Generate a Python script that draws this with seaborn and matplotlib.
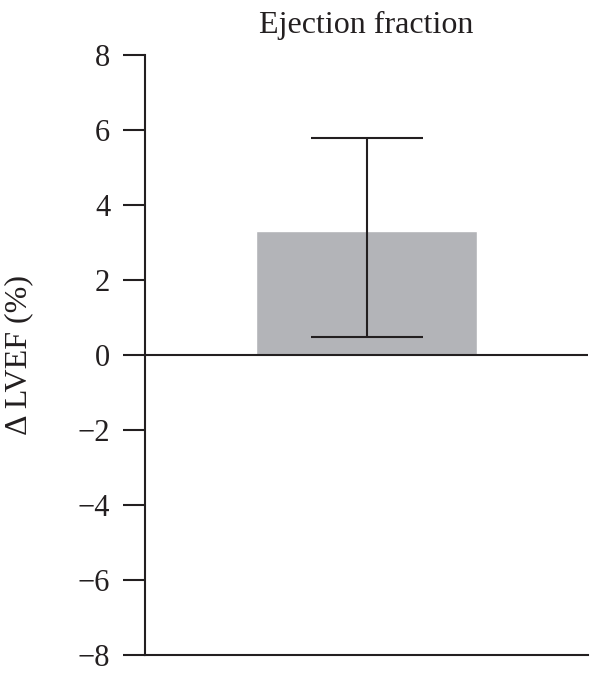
import pandas as pd
import matplotlib
matplotlib.use("Agg")
import matplotlib.pyplot as plt
import seaborn as sns

# Data
groups = ["LVEF"]
change = [3.3]
err_low = [0.48]
err_high = [5.8]
y_ticks = [-8, -6, -4, -2, 0, 2, 4, 6, 8]

sns.set_style("white")
plt.rcParams["font.family"] = ["Liberation Serif", "DejaVu Serif"]

df = pd.DataFrame({"group": groups, "change": change})
ink = "#231f20"
fs = 22

fig = plt.figure(figsize=(5.91, 6.75), dpi=100)
ax = fig.add_axes([0.2453, 0.0296, 0.7497, 0.8889])

sns.barplot(data=df, x="group", y="change", color="#b3b4b8", saturation=1,
            width=1.0, errorbar=None, ax=ax)

# asymmetric error bar
yerr = [[c - lo for c, lo in zip(change, err_low)],
        [hi - c for c, hi in zip(change, err_high)]]
ax.errorbar(x=range(len(groups)), y=change, yerr=yerr, fmt="none",
            ecolor=ink, elinewidth=1.5, capsize=40, capthick=1.5)

ax.axhline(0, color=ink, lw=1.5)

ax.set_xlim(-1, 1)
ax.set_ylim(-8, 8)
ax.set_yticks(y_ticks)
ax.set_yticklabels([str(t).replace("-", "\u2212") for t in y_ticks])
ax.set_xticks([])
ax.set_xlabel("")
ax.set_ylabel("\u0394 LVEF (%)", fontsize=fs + 1, color=ink)
ax.yaxis.set_label_coords(-0.253, 0.5)
ax.set_title("Ejection fraction", fontsize=fs + 1, color=ink, pad=16)

ax.tick_params(axis="y", length=16, width=1.5, color=ink, labelsize=fs,
               labelcolor=ink, pad=9, left=True)
sns.despine(ax=ax, top=True, right=True)
for s in ["left", "bottom"]:
    ax.spines[s].set_color(ink)
    ax.spines[s].set_linewidth(1.5)

fig.savefig("out.png", dpi=100)
